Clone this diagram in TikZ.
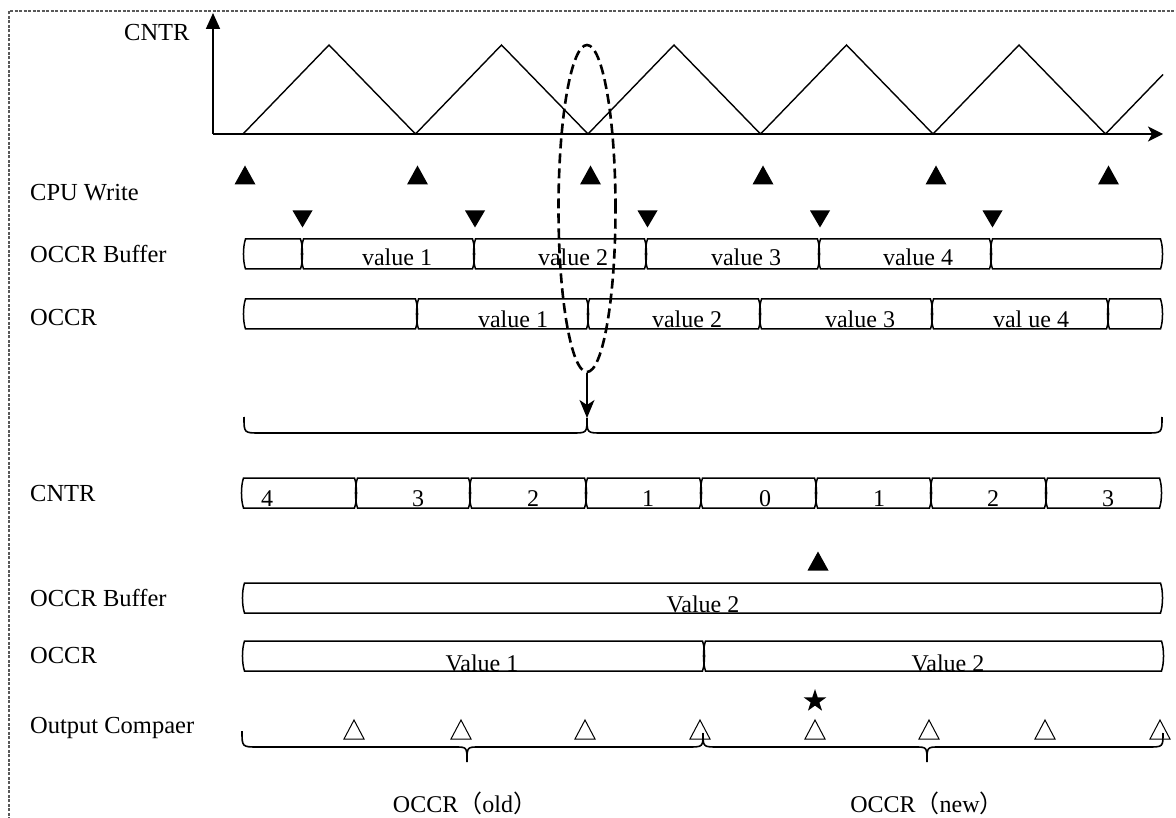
\documentclass[tikz,border=0pt]{standalone}
\usepackage{fontspec}
\setmainfont{Liberation Serif}
\newfontfamily\cjk{Noto Sans CJK SC}
\usetikzlibrary{shapes.geometric,arrows.meta}
\newcommand{\busseg}[4]{%
  \draw[bus] (#1+1.5,#3) -- (#2-1.5,#3) .. controls (#2+1.2,#3+8) and (#2+1.2,#4-8) .. (#2-1.5,#4) -- (#1+1.5,#4) .. controls (#1-1.2,#4-8) and (#1-1.2,#3+8) .. (#1+1.5,#3) -- cycle;}
\tikzset{
  bus/.style={line width=1.5pt},
  lbl/.style={font=\fontsize{24.5}{28}\selectfont, inner sep=0pt, anchor=base west},
  val/.style={font=\fontsize{24}{28}\selectfont, inner sep=0pt, anchor=base},
  brace/.style={line width=1.6pt},
  otri/.style={line width=1pt},
}
\begin{document}
\begin{tikzpicture}[x=1pt,y=-1pt]
\useasboundingbox (0,0) rectangle (1176,818);
\clip (0,0) rectangle (1176,818);
% frame
\draw[black!65, line width=1.1pt, dash pattern=on 3pt off 1.5pt] (9,1000) -- (9,11) -- (1300,11);
% axes
\coordinate (O) at (213,134);
\coordinate (ytip) at (213,13);
\coordinate (xtip) at (1163,134);
\draw[line width=1.8pt, -{Triangle[length=16pt,width=14pt]}] (O) -- (ytip);
\draw[line width=1.8pt, -{Stealth[length=15pt,width=15pt,inset=4pt]}] (O) -- (xtip);
\draw[line width=1.4pt, line join=miter] (243,134) -- (329,45) -- (415.5,134) -- (501.5,45) -- (588,134) -- (674,45) -- (760.5,134) -- (846.5,45) -- (933,134) -- (1019,45) -- (1105.5,134) -- (1163,74.5);
% labels
\node[lbl] (lcntr) at (124,41) {CNTR};
\node[lbl] (lcpu) at (30,201) {CPU Write};
\node[lbl] (lbuf1) at (30,263) {OCCR Buffer};
\node[lbl] (locc1) at (30,326) {OCCR};
\node[lbl] (lcntr2) at (30,501) {CNTR};
\node[lbl] (lbuf2) at (30,606) {OCCR Buffer};
\node[lbl] (locc2) at (30,663) {OCCR};
\node[lbl] (lout) at (30,733) {Output Compaer};
% CPU write markers
\foreach \x in {245,417.5,590.5,763,936,1108.5}
  \fill (\x-10.5,184.5) -- (\x,165.5) -- (\x+10.5,184.5) -- cycle;
\foreach \x in {302.5,475,647.5,820,992.5}
  \fill (\x-10,210.5) -- (\x,227.5) -- (\x+10,210.5) -- cycle;
% OCCR buffer row 1
\busseg{244}{302}{239}{269}
\busseg{302}{474}{239}{269}
\busseg{474}{646}{239}{269}
\busseg{646}{819}{239}{269}
\busseg{819}{991}{239}{269}
\busseg{991}{1162}{239}{269}
\node[val] (b1) at (397,266) {value 1};
\node[val] (b2) at (573,266) {value 2};
\node[val] (b3) at (746,266) {value 3};
\node[val] (b4) at (918,266) {value 4};
% OCCR row 1
\busseg{244}{417}{299}{329}
\busseg{417}{588}{299}{329}
\busseg{588}{760}{299}{329}
\busseg{760}{932}{299}{329}
\busseg{932}{1108}{299}{329}
\busseg{1108}{1162}{299}{329}
\node[val] (o1) at (513,328) {value 1};
\node[val] (o2) at (687,328) {value 2};
\node[val] (o3) at (860,328) {value 3};
\node[val] (o4) at (1031,328) {val ue 4};
% dashed ellipse and arrow
\node[ellipse, draw, line width=2.6pt, dash pattern=on 10pt off 5pt, minimum width=57pt, minimum height=327pt, inner sep=0pt] (el) at (587,208.5) {};
\coordinate (cusp) at (587,418);
\draw[line width=1.3pt, -{Stealth[length=18pt,width=15pt,inset=5pt]}] (el.south) -- (cusp);
% upper brace
\draw[brace] (244,417) .. controls (244,433) .. (260,433) -- (572,433) .. controls (587,433) .. (cusp) .. controls (587,433) .. (602,433) -- (1146,433) .. controls (1162,433) .. (1162,417);
% CNTR row
\busseg{242}{356}{478}{508}
\busseg{356}{470}{478}{508}
\busseg{470}{586}{478}{508}
\busseg{586}{701}{478}{508}
\busseg{701}{816}{478}{508}
\busseg{816}{931}{478}{508}
\busseg{931}{1046}{478}{508}
\busseg{1046}{1161}{478}{508}
\node[val] (c1) at (267,506) {4};
\node[val] (c2) at (418,506) {3};
\node[val] (c3) at (533,506) {2};
\node[val] (c4) at (648,506) {1};
\node[val] (c5) at (765,506) {0};
\node[val] (c6) at (879,506) {1};
\node[val] (c7) at (993,506) {2};
\node[val] (c8) at (1108,506) {3};
% update marker
\fill (807.5,570.5) -- (818,551.5) -- (828.5,570.5) -- cycle;
% OCCR buffer row 2
\busseg{243}{1162}{583}{613}
\node[val] (bb) at (703,612) {Value 2};
% OCCR row 2
\busseg{243}{704}{641}{671}
\busseg{704}{1163}{641}{671}
\node[val] (ov1) at (482,671) {Value 1};
\node[val] (ov2) at (948,671) {Value 2};
% star
\node[star, star points=5, star point ratio=2.6, fill, inner sep=0pt, minimum size=24pt] (star) at (815,701) {};
% output compare markers
\foreach \x in {354,461,585,700,815,929,1045,1160}
  \draw[otri] (\x-10,739) -- (\x,720) -- (\x+10,739) -- cycle;
% lower braces
\draw[brace] (242,731) .. controls (242,747) .. (258,747) -- (455,747) .. controls (467,747) .. (467,762) .. controls (467,747) .. (479,747) -- (688,747) .. controls (703,747) .. (703,733);
\draw[brace] (703,733) .. controls (703,747) .. (718,747) -- (915,747) .. controls (927,747) .. (927,762) .. controls (927,747) .. (939,747) -- (1148,747) .. controls (1163,747) .. (1163,733);
\node[val] (old) at (465,812) {OCCR{\cjk（}old{\cjk）}};
\node[val] (new) at (927,812) {OCCR{\cjk（}new{\cjk）}};
\end{tikzpicture}
\end{document}
